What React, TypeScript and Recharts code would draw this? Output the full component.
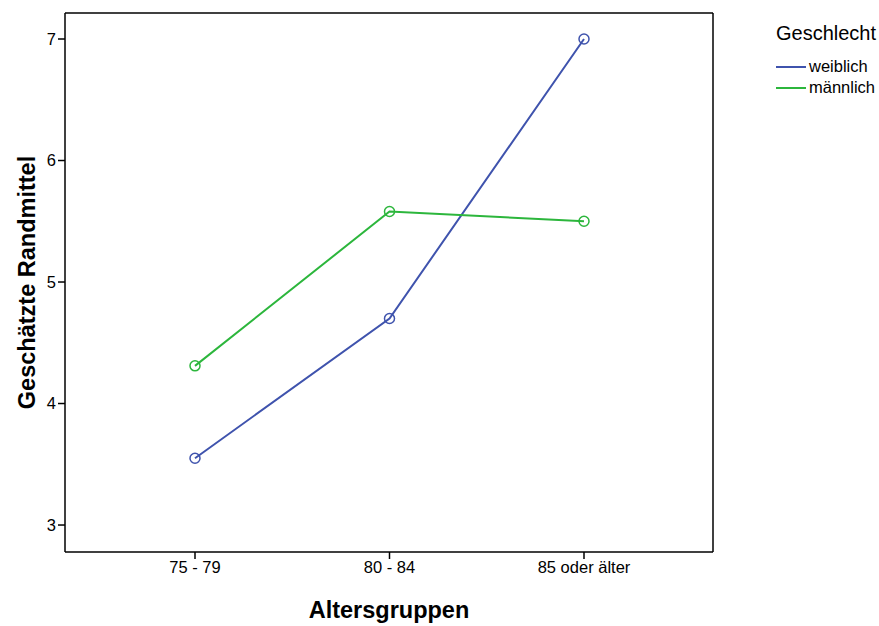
import { LineChart, Line, XAxis, YAxis } from "recharts";

const groups = ["75 - 79", "80 - 84", "85 oder älter"];
const weiblich = [3.55, 4.7, 7.0];
const maennlich = [4.31, 5.58, 5.5];
const yTicks = [3, 4, 5, 6, 7];

const data = groups.map((g, i) => ({ group: g, weiblich: weiblich[i], maennlich: maennlich[i] }));

const BLUE = "#3f53ad";
const GREEN = "#2cb63c";
const FONT = "'Liberation Sans', Arial, sans-serif";
const DOMAIN: [number, number] = [2.778, 7.214];

const LegendBox = () => (
  <div style={{ position: "absolute", left: 776, top: 21, fontFamily: FONT, color: "#000" }}>
    <div style={{ fontSize: 20, lineHeight: "24px", marginBottom: 11 }}>Geschlecht</div>
    {[
      { name: "weiblich", color: BLUE },
      { name: "männlich", color: GREEN },
    ].map((it) => (
      <div key={it.name} style={{ display: "flex", alignItems: "center", height: 21, fontSize: 16.5 }}>
        <span style={{ display: "inline-block", width: 30, height: 2, background: it.color, marginRight: 3 }} />
        {it.name}
      </div>
    ))}
  </div>
);

export default function App() {
  return (
    <div style={{ position: "absolute", left: 0, top: 0, width: 879, height: 626, background: "#fff" }}>
      <LineChart width={879} height={626} data={data} margin={{ top: 12, right: 165, bottom: 0, left: 0 }}>
        <XAxis
          dataKey="group"
          height={74}
          padding={{ left: 130, right: 129 }}
          tickSize={7}
          tickLine={{ stroke: "#000", strokeWidth: 1.5 }}
          axisLine={{ stroke: "#000", strokeWidth: 1.5 }}
          tick={{ fill: "#000", fontSize: 16.5, fontFamily: FONT }}
          label={{ value: "Altersgruppen", position: "insideBottom", offset: 8, fill: "#000", fontSize: 23.5, fontWeight: "bold", fontFamily: FONT }}
        />
        <XAxis xAxisId="top" dataKey="group" orientation="top" height={1} tick={false} tickLine={false} axisLine={{ stroke: "#000", strokeWidth: 1.5 }} />
        <YAxis
          domain={DOMAIN}
          ticks={yTicks}
          width={65}
          tickSize={7}
          tickLine={{ stroke: "#000", strokeWidth: 1.5 }}
          axisLine={{ stroke: "#000", strokeWidth: 1.5 }}
          tick={{ fill: "#000", fontSize: 16.5, fontFamily: FONT }}
          label={{ value: "Geschätzte Randmittel", angle: -90, position: "center", dx: -6, fill: "#000", fontSize: 23.5, fontWeight: "bold", fontFamily: FONT }}
        />
        <YAxis yAxisId="right" orientation="right" width={1} domain={DOMAIN} tick={false} tickLine={false} axisLine={{ stroke: "#000", strokeWidth: 1.5 }} />
        <Line
          dataKey="weiblich"
          name="weiblich"
          stroke={BLUE}
          strokeWidth={2}
          dot={{ r: 5, stroke: BLUE, strokeWidth: 1.5, fill: "none" }}
          isAnimationActive={false}
        />
        <Line
          dataKey="maennlich"
          name="männlich"
          stroke={GREEN}
          strokeWidth={2}
          dot={{ r: 5, stroke: GREEN, strokeWidth: 1.5, fill: "none" }}
          isAnimationActive={false}
        />
      </LineChart>
      <LegendBox />
    </div>
  );
}
